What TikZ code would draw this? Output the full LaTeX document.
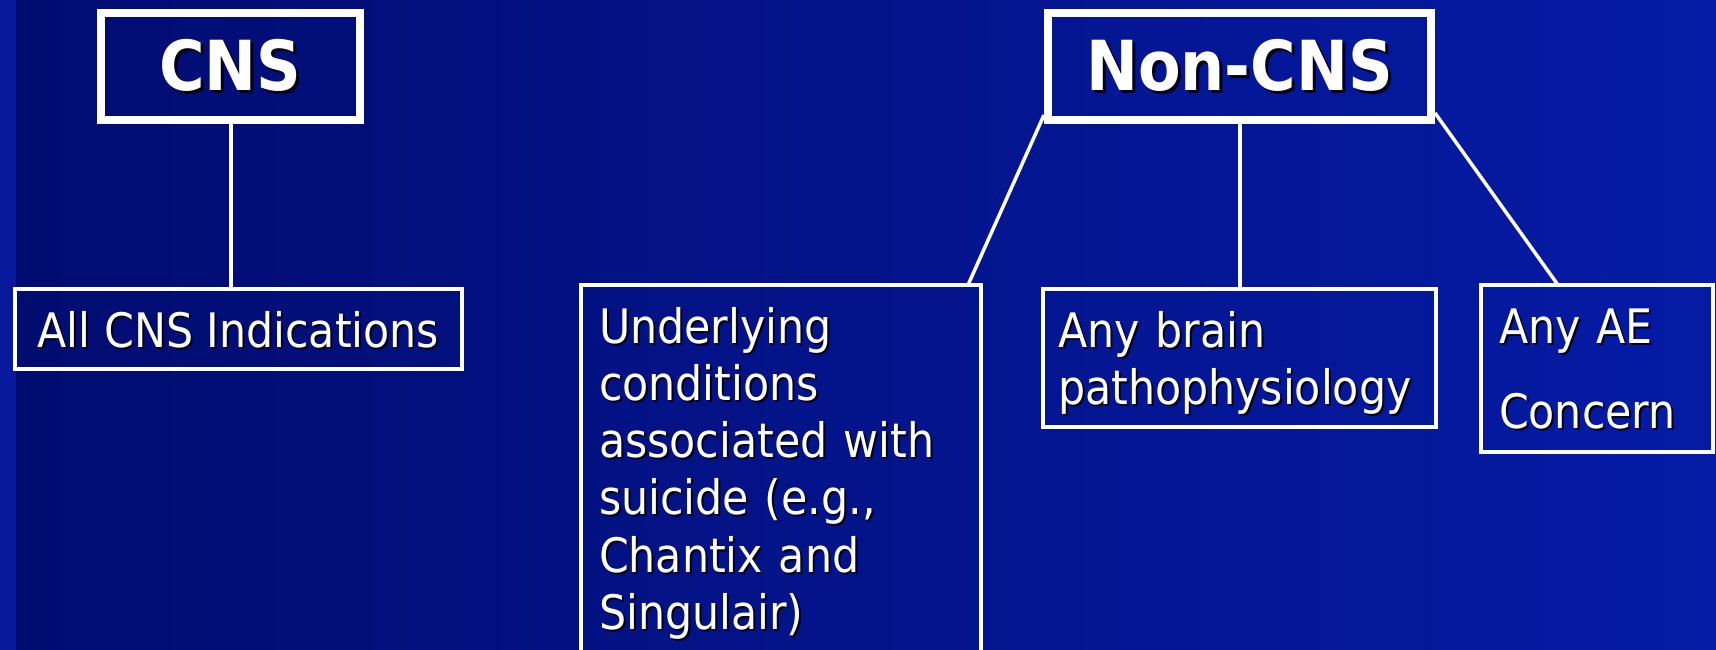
\documentclass[tikz,border=0pt]{standalone}
\usepackage{fontspec}
\setmainfont{DejaVu Sans Condensed}
\usepackage{xcolor}
\usepackage{tikz}
\definecolor{bgleft}{RGB}{1,12,112}
\definecolor{bgmid}{RGB}{3,20,145}
\definecolor{bgright}{RGB}{5,27,165}
\definecolor{bgstrip}{RGB}{8,26,155}
\definecolor{shadowcol}{RGB}{0,0,25}
% text with a small drop shadow
\newcommand{\shd}[2][2]{\makebox[0pt][l]{\hspace*{#1pt}\raisebox{-#1pt}{\textcolor{shadowcol}{#2}}}#2}
\tikzset{
    headbox/.style={draw=white, line width=8pt, inner sep=0pt, outer sep=0pt, minimum height=107pt, text=white, font=\fontsize{69}{72}\selectfont\bfseries},
    textbox/.style={draw=white, line width=4pt, inner sep=0pt, outer sep=0pt, text=white, align=left, font=\fontsize{47.5}{57.3}\selectfont},
    link/.style={draw=white, line width=4pt}
}

\begin{document}
\begin{tikzpicture}[x=1pt, y=-1pt]
    \clip (0,0) rectangle (1716,650);
    \shade [left color=bgleft, middle color=bgmid, right color=bgright] (0,0) rectangle (1716,650);
    \fill [bgstrip] (0,0) rectangle (16,650);

    \node (cns) [headbox, minimum width=259pt] at (230.5,66.5) {\shd[3]{CNS}};
    \node (noncns) [headbox, minimum width=383pt] at (1239.5,66.5) {\shd[3]{Non-CNS}};

    \node (allcns) [textbox, minimum width=447pt, text height=58pt, text depth=22pt] at (238.5,329) {\shd{All CNS Indications}};
    \node (suicide) [textbox, anchor=north west, inner xsep=18pt, text width=364pt, text height=58pt, text depth=360pt] at (581,285)
        {\shd{Underlying}\\ \shd{conditions}\\ \shd{associated with}\\ \shd{suicide (e.g.,}\\ \shd{Chantix and}\\ \shd{Singulair)}};
    \node (brain) [textbox, anchor=north west, inner xsep=15pt, text width=363pt, text height=58pt, text depth=80pt] at (1043,289)
        {\shd{Any brain}\\ \shd{pathophysiology}};
    \node (ae) [textbox, anchor=north west, inner xsep=18pt, text width=196pt, text height=58pt, text depth=109pt] at (1481,285)
        {\shd{Any AE}\\[28pt] \shd{Concern}};

    \draw [link] (cns.south) -- (cns.south |- allcns.north);
    \draw [link, line width=3.5pt] ([shift={(-4,-5)}]noncns.south west) -- ([xshift=-13pt]suicide.north east);
    \draw [link] (noncns.south) -- (brain.north);
    \draw [link, line width=3.5pt] ([shift={(4,-7)}]noncns.south east) -- ([xshift=-39pt]ae.north);
\end{tikzpicture}
\end{document}
